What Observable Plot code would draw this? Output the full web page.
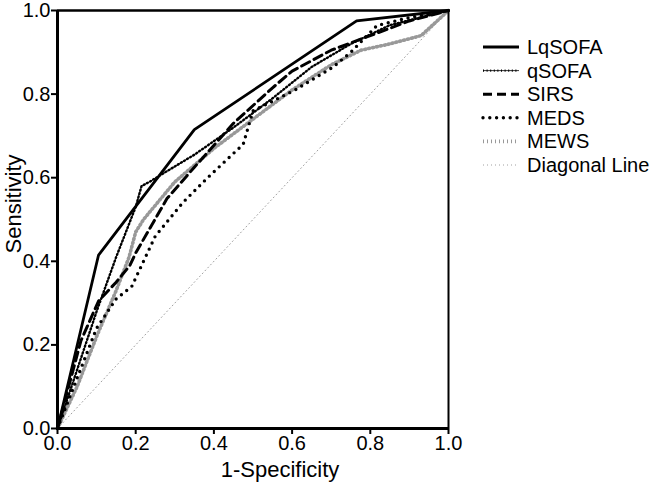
<!DOCTYPE html>
<html><head><meta charset="utf-8">
<script src="https://cdn.jsdelivr.net/npm/d3@7"></script>
<script src="https://cdn.jsdelivr.net/npm/@observablehq/plot@0.6"></script>
<style>body{margin:0;background:#fff;}</style>
</head><body><div id="chart"></div>
<script>
const seriesNames = ["LqSOFA", "qSOFA", "SIRS", "MEDS", "MEWS", "Diagonal Line"];
const xTicks = [0, 0.2, 0.4, 0.6, 0.8, 1.0];
const yTicks = [0, 0.2, 0.4, 0.6, 0.8, 1.0];
const xTitle = "1-Specificity";
const yTitle = "Sensitivity";

const lqsofaX = [0, 0.105, 0.35, 0.765, 1];
const lqsofaY = [0, 0.415, 0.715, 0.975, 1];

const qsofaX = [0, 0.1, 0.15, 0.2, 0.215, 0.235, 0.27, 0.35, 0.45, 0.55, 0.65, 0.75, 0.85, 1];
const qsofaY = [0, 0.28, 0.41, 0.53, 0.58, 0.59, 0.61, 0.655, 0.72, 0.79, 0.865, 0.92, 0.965, 1];

const sirsX = [0, 0.06, 0.105, 0.12, 0.15, 0.185, 0.2, 0.28, 0.35, 0.45, 0.55, 0.6, 0.7, 0.8, 0.9, 1];
const sirsY = [0, 0.21, 0.305, 0.32, 0.35, 0.39, 0.42, 0.55, 0.625, 0.73, 0.815, 0.855, 0.905, 0.94, 0.975, 1];

const medsX = [0, 0.05, 0.1, 0.15, 0.19, 0.22, 0.25, 0.32, 0.384, 0.475, 0.5, 0.608, 0.704, 0.75, 0.817, 0.9, 1];
const medsY = [0, 0.12, 0.24, 0.31, 0.34, 0.4, 0.46, 0.54, 0.6, 0.68, 0.76, 0.81, 0.864, 0.9, 0.964, 0.983, 1];

const mewsX = [0, 0.05, 0.1, 0.15, 0.183, 0.2, 0.22, 0.3, 0.4, 0.5, 0.6, 0.7, 0.776, 0.85, 0.93, 1];
const mewsY = [0, 0.1, 0.22, 0.33, 0.41, 0.47, 0.5, 0.59, 0.67, 0.74, 0.81, 0.87, 0.905, 0.92, 0.94, 1];

const diagX = [0, 1];
const diagY = [0, 1];

const xs = [lqsofaX, qsofaX, sirsX, medsX, mewsX, diagX];
const ys = [lqsofaY, qsofaY, sirsY, medsY, mewsY, diagY];

const rows = [];
seriesNames.forEach((name, i) => xs[i].forEach((x, j) => rows.push({series: name, x, y: ys[i][j]})));

// styles (layers per series)
const styles = {
  "LqSOFA": [{stroke: "#000", strokeWidth: 2.8}],
  "qSOFA": [{stroke: "#000", strokeWidth: 0.8}, {stroke: "#000", strokeWidth: 2.4, strokeDasharray: "1,2.6"}],
  "SIRS": [{stroke: "#000", strokeWidth: 3, strokeDasharray: "9,5"}],
  "MEDS": [{stroke: "#000", strokeWidth: 3.4, strokeDasharray: "0,6.8", strokeLinecap: "round"}],
  "MEWS": [{stroke: "#999", strokeWidth: 3.6, strokeDasharray: "1,3"}],
  "Diagonal Line": [{stroke: "#a0a0a0", strokeWidth: 1, strokeDasharray: "1,3"}]
};

const lineMarks = [];
["Diagonal Line", "MEWS", "MEDS", "SIRS", "qSOFA", "LqSOFA"].forEach(name => {
  styles[name].forEach(st => {
    lineMarks.push(Plot.line(rows.filter(d => d.series === name), {x: "x", y: "y", ...st}));
  });
});

const font = "'Liberation Sans', Arial, Helvetica, sans-serif";
const chart = Plot.plot({
  width: 655, height: 485,
  marginLeft: 57, marginRight: 207, marginTop: 10, marginBottom: 57,
  style: {fontFamily: font, fontSize: "20px", color: "#000", background: "#fff", overflow: "visible"},
  x: {domain: [0, 1], label: null},
  y: {domain: [0, 1], label: null},
  marks: [
    ...lineMarks,
    Plot.ruleX([1], {strokeWidth: 2}),
    Plot.ruleY([1], {strokeWidth: 2.5}),
    Plot.ruleX([0], {strokeWidth: 3}),
    Plot.ruleY([0], {strokeWidth: 3}),
    Plot.axisX({ticks: xTicks, tickFormat: d3.format(".1f"), tickSize: 6, strokeWidth: 2, tickPadding: 1, fontSize: 20, label: null}),
    Plot.axisY({ticks: yTicks, tickFormat: d3.format(".1f"), tickSize: 6, strokeWidth: 2, tickPadding: 1, fontSize: 20, label: null})
  ]
});
document.getElementById("chart").appendChild(chart);

const svg = d3.select(chart);
// axis titles
svg.append("text").attr("x", 280).attr("y", 469).attr("dy", "0.35em")
  .attr("text-anchor", "middle").attr("font-family", font).attr("font-size", 22).text(xTitle);
svg.append("text").attr("transform", "translate(13,204) rotate(-90)").attr("dy", "0.35em")
  .attr("text-anchor", "middle").attr("font-family", font).attr("font-size", 22).text(yTitle);

// legend in the right margin
const lg = svg.append("g").attr("font-family", font).attr("font-size", 20).attr("text-anchor", "start");
seriesNames.forEach((name, i) => {
  const yy = 47 + i * 23.6;
  styles[name].forEach(st => {
    lg.append("line").attr("x1", 483).attr("x2", 519).attr("y1", yy).attr("y2", yy)
      .attr("stroke", st.stroke).attr("stroke-width", st.strokeWidth)
      .attr("stroke-dasharray", st.strokeDasharray || null)
      .attr("stroke-linecap", st.strokeLinecap || null);
  });
  lg.append("text").attr("x", 527).attr("y", yy).attr("dy", "0.35em").text(name);
});
</script>
</body></html>
